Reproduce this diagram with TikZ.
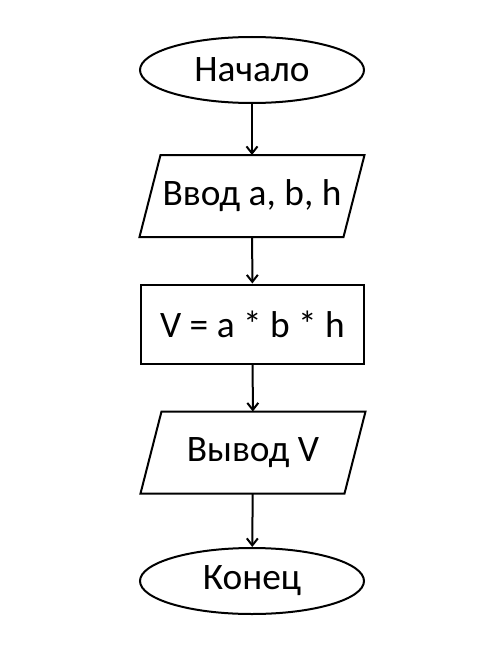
\documentclass[tikz,border=0pt]{standalone}
\usepackage{fontspec}
\setmainfont{Carlito}
\usetikzlibrary{shapes.geometric,arrows.meta}
\begin{document}
\begin{tikzpicture}[x=1bp,y=-1bp,
  every node/.style={font=\fontsize{37.5}{42}\selectfont, line width=2bp, inner sep=0pt},
  term/.style={draw=black, ellipse, minimum width=224bp, minimum height=66bp},
  iobox/.style={rectangle, minimum width=223bp, minimum height=80bp},
  proc/.style={draw=black, rectangle, minimum width=223bp, minimum height=79bp},
  shapeline/.style={line width=2bp, line join=miter},
  conn/.style={line width=2bp, -{Straight Barb[length=7bp,width=11bp,line width=2bp]}}]
\useasboundingbox[fill=white] (0,0) rectangle (501,649);
\node[term] (start) at (252,70) {Начало};
\node[iobox] (in) at (252,196) {Ввод a, b, h};
\draw[shapeline] ([xshift=21bp]in.north west) -- (in.north east) -- ([xshift=-21bp]in.south east) -- (in.south west) -- cycle;
\node[proc] (calc) at (252.5,324) {V = a * b * h};
\node[iobox] (out) at (253,452.5) {Вывод V};
\draw[shapeline] ([xshift=21bp]out.north west) -- (out.north east) -- ([xshift=-21bp]out.south east) -- (out.south west) -- cycle;
\node[term] (end) at (252,581) {Конец};
\draw[conn] (start) -- (in);
\draw[conn] (in) -- (calc);
\draw[conn] (calc) -- (out);
\draw[conn] (out) -- (end);
\end{tikzpicture}
\end{document}
